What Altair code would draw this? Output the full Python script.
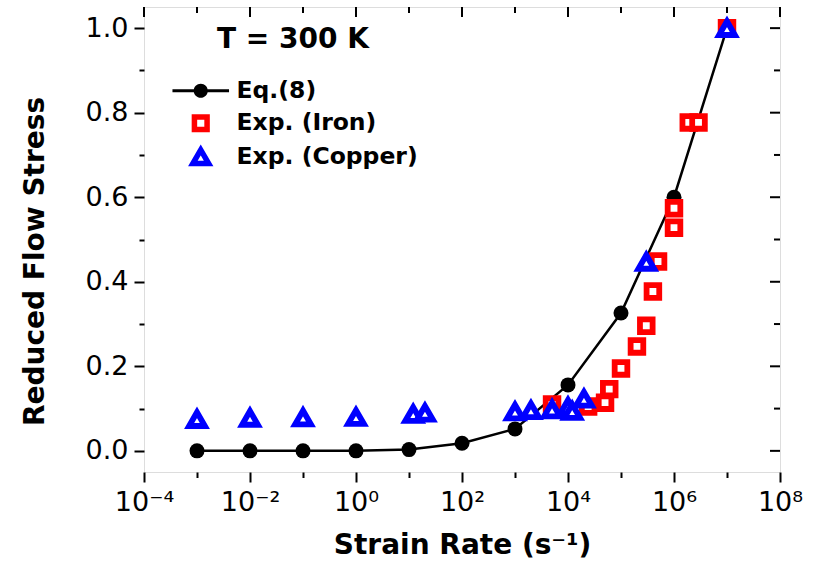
import math
import altair as alt
import pandas as pd

# ---------------- data ----------------
series_names = ["Eq.(8)", "Exp. (Iron)", "Exp. (Copper)"]

eq_rate = [1e-3, 1e-2, 1e-1, 1, 10, 100, 1e3, 1e4, 1e5, 1e6, 1e7]
eq_stress = [0.0, 0.0, 0.0, 0.0, 0.003, 0.018, 0.052, 0.156, 0.326, 0.600, 1.0]

iron_rate = [5e3, 2.4e4, 5e4, 6e4, 1e5, 2e5, 3e5, 4e5, 5e5, 1e6, 1e6, 1.9e6, 2.9e6, 1e7]
iron_stress = [0.11, 0.105, 0.114, 0.146, 0.195, 0.247, 0.296, 0.377, 0.448, 0.528, 0.574, 0.777, 0.777, 1.0]

copper_rate = [1e-3, 1e-2, 1e-1, 1, 12, 20, 1e3, 2e3, 5e3, 1e4, 1.2e4, 2e4, 3e5, 1e7]
copper_stress = [0.075, 0.078, 0.079, 0.080, 0.087, 0.090, 0.093, 0.096, 0.098, 0.104, 0.094, 0.123, 0.447, 1.0]

x_tick_values = [1e-4, 1e-3, 1e-2, 1e-1, 1, 10, 1e2, 1e3, 1e4, 1e5, 1e6, 1e7, 1e8]
x_tick_labels = {-4: "10⁻⁴", -2: "10⁻²", 0: "10⁰", 2: "10²", 4: "10⁴", 6: "10⁶", 8: "10⁸"}
y_tick_values = [0.0, 0.1, 0.2, 0.3, 0.4, 0.5, 0.6, 0.7, 0.8, 0.9, 1.0]

x_title = "Strain Rate (s⁻¹)"
y_title = "Reduced Flow Stress"
note = ["T = 300 K"]

# ---------------- tables ----------------
eq_df = pd.DataFrame({"rate": eq_rate, "stress": eq_stress, "series": series_names[0]})
exp_df = pd.concat([
    pd.DataFrame({"rate": iron_rate, "stress": iron_stress, "series": series_names[1]}),
    pd.DataFrame({"rate": copper_rate, "stress": copper_stress, "series": series_names[2]}),
], ignore_index=True)
xmajor_df = pd.DataFrame({"rate": [v for v in x_tick_values if round(math.log10(v)) % 2 == 0]})
xminor_df = pd.DataFrame({"rate": [v for v in x_tick_values if round(math.log10(v)) % 2 != 0]})
ymajor_df = pd.DataFrame({"stress": [v for v in y_tick_values if round(v * 10) % 2 == 0]})
yminor_df = pd.DataFrame({"stress": [v for v in y_tick_values if round(v * 10) % 2 == 1]})
note_df = pd.DataFrame({"note": note})

W, H = 636, 465
FONT = "DejaVu Sans"

label_expr = " : ".join(
    f"round(log(datum.value)/LN10) == {k} ? '{v}'" for k, v in x_tick_labels.items()
) + " : ''"

xscale = alt.Scale(type="log", domain=[1e-4, 1e8], nice=False)
yscale = alt.Scale(domain=[-0.05, 1.05], nice=False, zero=False)

xaxis = alt.Axis(
    orient="bottom", values=x_tick_values, grid=False, domain=False,
    tickColor="black", tickWidth=2,
    tickSize={"condition": {"test": "abs(round(log(datum.value)/LN10)) % 2 == 1", "value": 5.5}, "value": 10},
    labelExpr=label_expr, labelFont=FONT, labelFontSize=27, labelColor="black",
    labelBaseline="alphabetic", labelPadding=28, labelFlush=False, labelOverlap=False,
    title=x_title, titleFont=FONT, titleFontSize=28, titleFontWeight="bold", titleColor="black",
    titleBaseline="alphabetic", titleY=81,
)
yaxis = alt.Axis(
    orient="left", values=y_tick_values, grid=False, domain=False,
    tickColor="black", tickWidth=2,
    tickSize={"condition": {"test": "round(datum.value*10) % 2 == 1", "value": 5}, "value": 10},
    labelExpr="round(datum.value*10) % 2 == 1 ? '' : format(datum.value, '.1f')",
    labelFont=FONT, labelFontSize=27, labelColor="black", labelPadding=6,
    labelFlush=False, labelOverlap=False,
    title=y_title, titleFont=FONT, titleFontSize=28, titleFontWeight="bold", titleColor="black",
    titleBaseline="alphabetic", titleX=-101, titleY=254, titleAngle=270,
)

X = lambda f: alt.X(f"{f}:Q", scale=xscale, axis=xaxis)
Y = lambda f: alt.Y(f"{f}:Q", scale=yscale, axis=yaxis)

legend = alt.Legend(
    title=None, orient="none", legendX=45, legendY=72, padding=0,
    labelFont=FONT, labelFontSize=23.5, labelFontWeight="bold", labelColor="black",
    labelOffset=24, rowPadding=-3.5, symbolStrokeWidth=5.5, labelLimit=400,
)
eq_symbol = "M-4,-0.22H4V0.22H-4Z M1,0A1,1,0,1,1,-1,0A1,1,0,1,1,1,0Z"
dom = series_names

line = alt.Chart(eq_df).mark_line(color="black", strokeWidth=2.5).encode(x=X("rate"), y=Y("stress"))
dots = alt.Chart(eq_df).mark_point(filled=True, color="black", size=225, opacity=1, shape="circle").encode(
    x=X("rate"), y=Y("stress"))
exp = alt.Chart(exp_df).mark_point(opacity=1, strokeWidth=5.8).encode(
    x=X("rate"), y=Y("stress"),
    shape=alt.Shape("series:N", scale=alt.Scale(domain=dom, range=[eq_symbol, "square", "triangle-up"]), legend=legend),
    fill=alt.Fill("series:N", scale=alt.Scale(domain=dom, range=["black", "white", "white"]), legend=legend),
    stroke=alt.Stroke("series:N", scale=alt.Scale(domain=dom, range=["transparent", "red", "blue"]), legend=legend),
    size=alt.Size("series:N", scale=alt.Scale(type="ordinal", domain=dom, range=[200, 160, 250]), legend=legend),
)

# inward mirror ticks on top and right edges
top_major = alt.Chart(xmajor_df).mark_rule(color="black", strokeWidth=2).encode(
    x=X("rate"), y=alt.value(0), y2=alt.value(10))
top_minor = alt.Chart(xminor_df).mark_rule(color="black", strokeWidth=2).encode(
    x=X("rate"), y=alt.value(0), y2=alt.value(6))
right_major = alt.Chart(ymajor_df).mark_rule(color="black", strokeWidth=2).encode(
    y=Y("stress"), x=alt.value(W), x2=alt.value(W - 10))
right_minor = alt.Chart(yminor_df).mark_rule(color="black", strokeWidth=2).encode(
    y=Y("stress"), x=alt.value(W), x2=alt.value(W - 6))

label = alt.Chart(note_df).mark_text(
    align="left", baseline="alphabetic", font=FONT, fontSize=28, fontWeight="bold", color="black"
).encode(text="note:N", x=alt.value(73), y=alt.value(41))

chart = alt.layer(line, dots, exp, top_major, top_minor, right_major, right_minor, label).properties(
    width=W, height=H,
    autosize=alt.AutoSizeParams(type="none"),
    padding={"left": 144, "top": 7, "right": 38, "bottom": 90},
).configure_view(stroke="black", strokeWidth=2).configure(background="white")

chart.save("out.html", embed_options={"renderer": "svg", "actions": False})
